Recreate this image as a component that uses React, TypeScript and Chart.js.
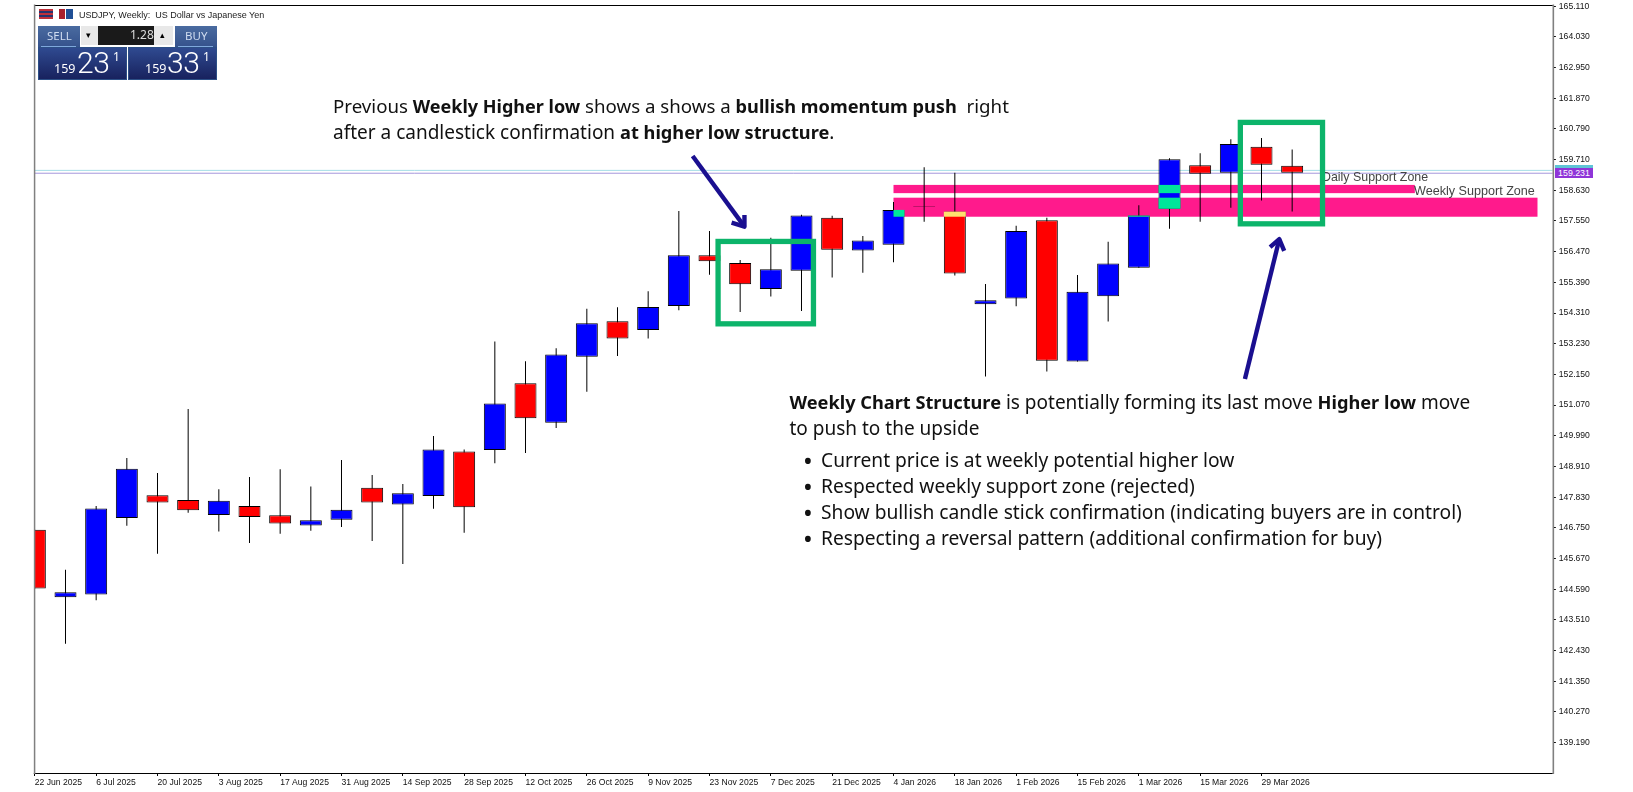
import React, { useEffect, useRef } from "react";
import { Chart, registerables } from "chart.js";

Chart.register(...registerables);

const opens = [146.68,144.31,144.40,147.10,147.90,147.73,147.20,147.52,147.19,146.83,147.03,148.16,147.57,147.87,149.44,149.49,151.84,150.45,152.77,154.02,153.71,154.56,156.34,156.07,155.16,155.80,157.66,156.51,156.71,158.08,157.88,154.62,154.82,157.58,152.60,154.90,155.90,157.98,159.51,159.25,160.16,159.49];
const highs = [146.68,145.27,147.52,149.21,148.68,150.93,148.11,148.54,148.81,148.20,149.14,148.61,148.29,149.98,149.51,153.31,152.61,153.07,154.46,154.51,155.08,157.90,157.20,156.18,156.96,157.77,157.73,157.02,158.22,159.44,159.25,155.33,157.38,157.66,155.65,156.82,158.10,159.76,159.93,160.43,160.47,160.07];
const lows = [144.61,142.67,144.20,146.82,145.84,147.28,146.62,146.22,146.54,146.65,146.78,146.29,145.48,147.42,146.58,149.02,149.38,150.26,151.54,152.80,153.41,154.41,155.66,154.35,154.89,154.38,155.56,155.73,156.10,157.52,155.63,152.08,154.55,152.25,152.60,154.01,155.90,157.28,157.52,158.02,158.27,157.88];
const closes = [144.61,144.48,147.43,148.83,147.64,147.37,147.70,147.13,146.90,147.02,147.39,147.64,147.97,149.51,147.47,151.13,150.61,152.85,153.95,153.41,154.52,156.34,156.13,155.32,155.85,157.74,156.54,156.86,157.94,158.06,155.70,154.76,157.20,152.63,155.06,156.05,157.74,159.72,159.21,160.26,159.53,159.25];

const dateLabels = ["22 Jun 2025","6 Jul 2025","20 Jul 2025","3 Aug 2025","17 Aug 2025","31 Aug 2025","14 Sep 2025","28 Sep 2025","12 Oct 2025","26 Oct 2025","9 Nov 2025","23 Nov 2025","7 Dec 2025","21 Dec 2025","4 Jan 2026","18 Jan 2026","1 Feb 2026","15 Feb 2026","1 Mar 2026","15 Mar 2026","29 Mar 2026"];
const priceTicks = [139.19,140.27,141.35,142.43,143.51,144.59,145.67,146.75,147.83,148.91,149.99,151.07,152.15,153.23,154.31,155.39,156.47,157.55,158.63,159.71,160.79,161.87,162.95,164.03,165.11];
const levelPrices = [159.331, 159.231];
const levelColors = ["#a6dde6", "#a596dc"];

// annotation geometry in chart units: bar index and price
const zoneFrom = [28, 28];
const zoneTo = [45, 49];
const zoneTop = [158.82, 158.37];
const zoneBottom = [158.53, 157.70];
const frameLeft = [22.28, 39.31];
const frameRight = [25.39, 41.99];
const frameTop = [156.83, 161.02];
const frameBottom = [153.93, 157.45];
const arrowShaftX = [[21.45, 23.14], [39.46, 40.58]];
const arrowShaftY = [[159.84, 157.35], [151.99, 156.91]];
const arrowBarbX = [[22.72, 23.14], [40.28, 40.74]];
const arrowBarbY = [[157.49, 157.76], [156.63, 156.50]];

const BLUE = "#0000ff";
const RED = "#ff0000";

const annotations = {
  id: "annotations",
  beforeDatasetsDraw(chart: any) {
    const { ctx, scales: { x, y } } = chart;
    ctx.save();
    ctx.fillStyle = "#ff1a8c";
    zoneFrom.forEach((_, i) => {
      const l = x.getPixelForValue(zoneFrom[i]);
      const t = y.getPixelForValue(zoneTop[i]);
      ctx.fillRect(l, t, x.getPixelForValue(zoneTo[i]) - l, y.getPixelForValue(zoneBottom[i]) - t);
    });
    ctx.restore();
  },
  afterDatasetsDraw(chart: any) {
    const { ctx, scales: { x, y } } = chart;
    ctx.save();
    // candle bodies inverted where they cross a zone
    opens.forEach((o, c) => {
      const top = Math.max(o, closes[c]);
      const bot = Math.min(o, closes[c]);
      const px = x.getPixelForValue(c);
      zoneFrom.forEach((_, z) => {
        const hiV = Math.min(top, zoneTop[z]);
        const loV = Math.max(bot, zoneBottom[z]);
        if (hiV <= loV || top - bot < 0.1) return;
        const l = Math.max(px - 11, x.getPixelForValue(zoneFrom[z]));
        const r = Math.min(px + 11, x.getPixelForValue(zoneTo[z]));
        if (r <= l) return;
        ctx.fillStyle = closes[c] >= o ? "#00e69a" : "#ffe06e";
        const t = y.getPixelForValue(hiV);
        ctx.fillRect(l, t, r - l, y.getPixelForValue(loV) - t);
      });
    });
    // frame of the plot
    const a = chart.chartArea;
    ctx.fillStyle = "#000";
    ctx.fillRect(a.left, Math.round(a.top), a.right - a.left, 1);
    ctx.fillRect(a.left - 1, Math.round(a.bottom), a.right - a.left + 1, 1);
    ctx.fillStyle = "#808080";
    ctx.fillRect(a.left - 1, a.top, 1.5, a.bottom - a.top + 1);
    ctx.fillRect(a.right - 0.3, a.top, 1.6, a.bottom - a.top + 1);
    // green frames
    ctx.strokeStyle = "#0cb46a";
    ctx.lineWidth = 5.3;
    frameLeft.forEach((_, i) => {
      const l = x.getPixelForValue(frameLeft[i]);
      const t = y.getPixelForValue(frameTop[i]);
      ctx.strokeRect(l, t, x.getPixelForValue(frameRight[i]) - l, y.getPixelForValue(frameBottom[i]) - t);
    });
    // arrows
    ctx.strokeStyle = "#1a0f90";
    ctx.lineWidth = 4.4;
    ctx.lineCap = "butt";
    ctx.lineJoin = "round";
    arrowShaftX.forEach((sx, i) => {
      const tipX = x.getPixelForValue(sx[1]);
      const tipY = y.getPixelForValue(arrowShaftY[i][1]);
      ctx.beginPath();
      ctx.moveTo(x.getPixelForValue(sx[0]), y.getPixelForValue(arrowShaftY[i][0]));
      ctx.lineTo(tipX, tipY);
      ctx.stroke();
      ctx.beginPath();
      ctx.moveTo(x.getPixelForValue(arrowBarbX[i][0]), y.getPixelForValue(arrowBarbY[i][0]));
      ctx.lineTo(tipX, tipY);
      ctx.lineTo(x.getPixelForValue(arrowBarbX[i][1]), y.getPixelForValue(arrowBarbY[i][1]));
      ctx.stroke();
    });
    ctx.restore();
  },
};

const abs = (left: number, top: number, extra: any = {}) => ({ position: "absolute", left, top, whiteSpace: "pre", ...extra } as React.CSSProperties);

const noteFont: React.CSSProperties = { fontFamily: "'Noto Sans', sans-serif", fontSize: 19, color: "#111", lineHeight: "26px" };
const strong: React.CSSProperties = { fontSize: 18.2, fontWeight: 700 };

function Panel() {
  const priceBox = (left: number, big: string, smallLeft: number, bigLeft: number, supLeft: number) => (
    <>
      <div style={abs(left, 47, { width: 89, height: 33, boxSizing: "border-box", border: "1px solid #2c4f86", background: "linear-gradient(#2f4a90,#18225e)" })} />
      <div style={abs(smallLeft, 62, { color: "#fff", font: "12.5px/14px 'Noto Sans'" })}>159</div>
      <div style={abs(bigLeft, 46, { color: "#fff", font: "300 30px/34px Roboto", letterSpacing: -0.5 })}>{big}</div>
      <div style={abs(supLeft, 50, { color: "#fff", font: "12px/14px 'Noto Sans'" })}>1</div>
    </>
  );
  const head = (left: number, width: number, label: string, textLeft: number) => (
    <>
      <div style={abs(left, 26, { width, height: 21, background: "linear-gradient(#4a6ba0,#35528c)" })} />
      <div style={abs(left + 3, 46, { width: width - 7, height: 1, background: "#7fa8dc" })} />
      <div style={abs(textLeft, 29, { color: "#cfdcf0", font: "11.5px/14px 'Noto Sans'" })}>{label}</div>
    </>
  );
  return (
    <>
      <div style={abs(39, 9, { width: 14, height: 10, background: "repeating-linear-gradient(#c0303a 0 2px,#27346e 2px 4px)" })} />
      <div style={abs(59, 9, { width: 6, height: 10, background: "#a8202e" })} />
      <div style={abs(66, 9, { width: 7, height: 10, background: "#1f4f96" })} />
      <div style={abs(79, 9, { font: "9px/12px 'Liberation Sans'", color: "#222" })}>USDJPY, Weekly:  US Dollar vs Japanese Yen</div>
      {head(38, 42, "SELL", 47)}
      {head(175, 42, "BUY", 185)}
      <div style={abs(81, 26, { width: 17, height: 19, background: "#e8e8e8" })} />
      <div style={abs(86, 31, { font: "9px/9px 'Liberation Sans'", color: "#000" })}>▾</div>
      <div style={abs(98, 26, { width: 56, height: 19, background: "#1a1a1a" })} />
      <div style={abs(130, 28, { font: "12px/14px 'Noto Sans'", color: "#ddd" })}>1.28</div>
      <div style={abs(154, 26, { width: 19, height: 19, background: "#e8e8e8" })} />
      <div style={abs(160, 31, { font: "9px/9px 'Liberation Sans'", color: "#000" })}>▴</div>
      {priceBox(38, "23", 54, 77, 113)}
      {priceBox(128, "33", 145, 167, 203)}
    </>
  );
}

export default function App() {
  const ref = useRef<HTMLCanvasElement>(null);
  useEffect(() => {
    const chart = new Chart(ref.current!, {
      type: "bar",
      data: {
        datasets: [
          {
            label: "Body",
            order: 1,
            data: opens.map((o, i) => ({ x: i, y: [o, closes[i]] })),
            backgroundColor: opens.map((o, i) => (closes[i] >= o ? BLUE : RED)),
            borderColor: "#000",
            borderWidth: 1,
            borderSkipped: false,
            barThickness: 22,
            inflateAmount: 0,
            grouped: false,
          },
          {
            label: "Wick",
            order: 2,
            data: highs.map((h, i) => ({ x: i, y: [lows[i], h] })),
            backgroundColor: "#000",
            barThickness: 1,
            inflateAmount: 0,
            grouped: false,
          },
          ...levelPrices.map((p, i) => ({
            type: "line",
            label: "Level " + p,
            order: 3,
            data: [{ x: 0, y: p }, { x: 49.5, y: p }],
            borderColor: levelColors[i],
            borderWidth: 1,
            pointRadius: 0,
          })),
        ] as any,
      },
      options: {
        animation: false,
        responsive: false,
        layout: { padding: { left: 34.83, top: 4.5, right: 0, bottom: 0 } },
        plugins: { legend: { display: false }, tooltip: { enabled: false } },
        scales: {
          x: {
            type: "linear",
            min: 0,
            max: 49.5,
            offset: false,
            afterBuildTicks(axis: any) {
              axis.ticks = dateLabels.map((_, i) => ({ value: i * 2 }));
            },
            afterFit(axis: any) {
              axis.height = 19;
              axis.paddingLeft = 0;
              axis.paddingRight = 0;
            },
            grid: { display: true, drawOnChartArea: false, drawTicks: true, tickLength: 3, tickColor: "#000", offset: false },
            border: { display: false },
            ticks: {
              autoSkip: false,
              maxRotation: 0,
              align: "start",
              padding: 1,
              color: "#111",
              font: { family: "'Liberation Sans'", size: 8.6 },
              callback: (v: any) => dateLabels[Math.round(v / 2)],
            },
          },
          y: {
            type: "linear",
            position: "right",
            min: 138.12,
            max: 165.17,
            afterBuildTicks(axis: any) {
              axis.ticks = priceTicks.map((value) => ({ value }));
            },
            afterFit(axis: any) {
              axis.width = 80.17;
              axis.paddingTop = 0;
              axis.paddingBottom = 0;
            },
            grid: { display: true, drawOnChartArea: false, drawTicks: true, tickLength: 3, tickColor: "#000" },
            border: { display: false },
            ticks: {
              autoSkip: false,
              padding: 3,
              color: "#111",
              font: { family: "'Liberation Sans'", size: 8.6 },
              callback: (v: any) => Number(v).toFixed(3),
            },
          },
        },
      } as any,
      plugins: [annotations],
    });
    return () => chart.destroy();
  }, []);

  return (
    <div style={{ position: "absolute", left: 0, top: 0, width: 1633, height: 792, background: "#fff", overflow: "hidden" }}>
      <canvas ref={ref} width={1633} height={792} style={{ position: "absolute", left: 0, top: 0 }} />
      <Panel />
      <div style={abs(1322, 170, { font: "12.4px/15px 'Liberation Sans'", color: "#444", clipPath: "inset(0 0 0 3px)" })}>Daily Support Zone</div>
      <div style={abs(1414, 184, { font: "12.6px/15px 'Liberation Sans'", color: "#444" })}>Weekly Support Zone</div>
      <div style={abs(1555, 165, { width: 38, height: 3, background: "#5fc4d6" })} />
      <div style={abs(1555, 168, { width: 38, height: 10, background: "#8f35d8", color: "#fff", font: "8.8px/10px 'Liberation Sans'", textAlign: "center" })}>159.231</div>
      <div style={abs(333, 93, { ...noteFont, fontSize: 18.7 })}>
        Previous <b style={{ ...strong, fontSize: 18 }}>Weekly Higher low</b> shows a shows a <b style={strong}>bullish momentum push</b>  right
      </div>
      <div style={abs(333, 119, noteFont)}>
        after a candlestick confirmation <b style={strong}>at higher low structure</b>.
      </div>
      <div style={abs(789.5, 389, noteFont)}>
        <b style={strong}>Weekly Chart Structure</b> is potentially forming its last move <b style={strong}>Higher low</b> move{"\n"}to push to the upside
      </div>
      {["Current price is at weekly potential higher low", "Respected weekly support zone (rejected)", "Show bullish candle stick confirmation (indicating buyers are in control)", "Respecting a reversal pattern (additional confirmation for buy)"].map((t, i) => (
        <React.Fragment key={t}>
          <div style={abs(803, 447 + i * 26, { ...noteFont, fontSize: 26 })}>•</div>
          <div style={abs(821, 447 + i * 26, { ...noteFont, fontSize: 19.2 })}>{t}</div>
        </React.Fragment>
      ))}
    </div>
  );
}
